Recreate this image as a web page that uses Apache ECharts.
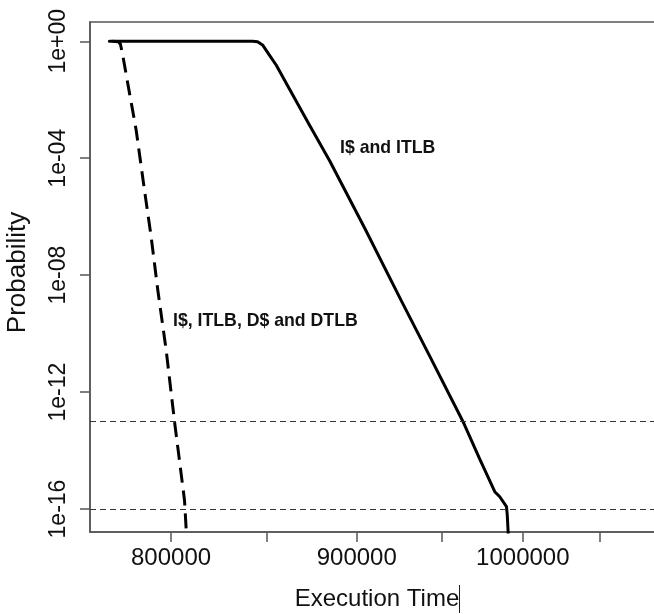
<!DOCTYPE html>
<html><head><meta charset="utf-8">
<script src="https://cdn.jsdelivr.net/npm/echarts@6/dist/echarts.min.js"></script>
<style>html,body{margin:0;padding:0;background:#fff}#c{width:654px;height:614px}</style>
</head><body><div id="c"></div>
<script>
// "I$ and ITLB" curve (solid)
const execTimeIL = [769300, 842450, 845130, 847980, 851600, 855230, 862470, 873480, 884660, 904600, 925630, 942650, 962800, 973060, 982360, 985490, 989690, 990190, 990820];
const probIL     = [1, 1, 0.961, 0.73, 0.332, 0.1511, 0.02286, 1.343e-3, 8.22e-5, 4.04e-7, 1.4e-9, 1.7e-11, 9.7e-14, 5.12e-15, 3.9e-16, 2.63e-16, 1.2e-16, 6.2e-17, 1.3e-17];
// "I$, ITLB, D$ and DTLB" curve (dashed)
const execTimeAll = [770800, 773740, 774730, 775860, 778330, 782490, 786620, 789980, 793290, 797530, 801740, 806850, 807870];
const probAll     = [1, 0.961, 0.79, 0.33, 0.0358, 9.1e-4, 8.1e-6, 2.0e-7, 3.1e-9, 2.7e-11, 1e-13, 2.0e-16, 1.3e-17];
const xTickValues = [800000, 850000, 900000, 950000, 1000000, 1050000];
const xLabelValues = [800000, 900000, 1000000];
const yTickValues = [1e-16, 1e-12, 1e-8, 1e-4, 1];
const thresholds = [1e-13, 1e-16];
const seriesNames = ['I$ and ITLB', 'I$, ITLB, D$ and DTLB'];
const xRange = [759900, 1093700];
const yRange = [Math.pow(10, -16.786), Math.pow(10, 0.66)];

const FONT = '"Liberation Sans", Arial, sans-serif';
const AX = '#555';
const chart = echarts.init(document.getElementById('c'), null, {renderer: 'canvas'});
function yFmt(v) {
  const e = Math.round(Math.log10(v));
  return '1e' + (e < 0 ? '-' : '+') + String(Math.abs(e)).padStart(2, '0');
}
chart.setOption({
  animation: false,
  backgroundColor: '#fff',
  grid: {left: 90, top: 22, right: -10, bottom: 82, containLabel: false, outerBoundsMode: 'none',
         show: true, borderColor: AX, borderWidth: 1.5, backgroundColor: 'transparent'},
  xAxis: {
    type: 'log', min: xRange[0], max: xRange[1],
    name: 'Execution Time', nameLocation: 'middle', nameGap: 55,
    nameTextStyle: {fontFamily: FONT, fontSize: 24, color: '#111'},
    axisLine: {show: true, lineStyle: {color: AX, width: 1.5}},
    axisTick: {show: true, length: 10, lineStyle: {color: AX, width: 1.5}, customValues: xTickValues},
    axisLabel: {show: true, margin: 14, fontFamily: FONT, fontSize: 24, color: '#111',
                customValues: xLabelValues, formatter: v => String(Math.round(v))},
    splitLine: {show: false}, minorTick: {show: false}, minorSplitLine: {show: false}
  },
  yAxis: {
    type: 'log', min: yRange[0], max: yRange[1],
    name: 'Probability', nameLocation: 'middle', nameGap: 59,
    nameTextStyle: {fontFamily: FONT, fontSize: 26, color: '#111', padding: [0, 0, 0, 9]},
    axisLine: {show: true, lineStyle: {color: AX, width: 1.5}},
    axisTick: {show: true, length: 10, lineStyle: {color: AX, width: 1.5}, customValues: yTickValues},
    axisLabel: {show: true, rotate: 90, margin: 20, fontFamily: FONT, fontSize: 23, color: '#111',
                customValues: yTickValues, formatter: yFmt},
    splitLine: {show: false}, minorTick: {show: false}, minorSplitLine: {show: false}
  },
  series: [
    {
      name: seriesNames[0], type: 'line', showSymbol: false, symbol: 'none', smooth: false,
      data: execTimeIL.map((x, i) => [x, probIL[i]]),
      lineStyle: {color: '#000', width: 3, join: 'round', cap: 'round'},
      markLine: {
        silent: true, symbol: 'none', label: {show: false},
        lineStyle: {color: '#333', width: 1, type: [6, 4]},
        data: thresholds.map(t => [{coord: [xRange[0], t]}, {coord: [xRange[1], t]}])
      }
    },
    {
      name: seriesNames[1], type: 'line', showSymbol: false, symbol: 'none', smooth: false,
      data: execTimeAll.map((x, i) => [x, probAll[i]]),
      lineStyle: {color: '#000', width: 3, type: [15, 8], join: 'round', cap: 'butt'}
    }
  ],
  graphic: [
    {type: 'text', left: 340, top: 139, style: {text: seriesNames[0], font: 'bold 17.7px ' + FONT, fill: '#111'}},
    {type: 'text', left: 173, top: 312, style: {text: seriesNames[1], font: 'bold 17.7px ' + FONT, fill: '#111'}},
    {type: 'line', shape: {x1: 459.5, y1: 585, x2: 459.5, y2: 613}, style: {stroke: '#222', lineWidth: 1}}
  ]
});
</script></body></html>
